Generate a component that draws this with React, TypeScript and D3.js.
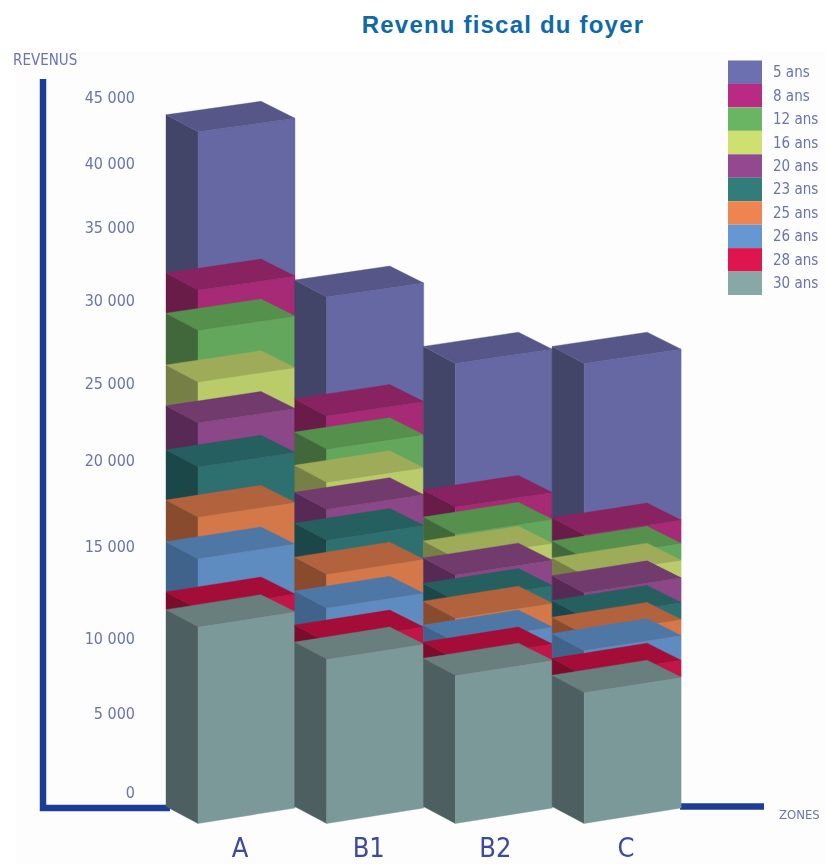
import React from "react";
import * as d3 from "d3";

const zones = ["A", "B1", "B2", "C"];
const ages = ["5 ans", "8 ans", "12 ans", "16 ans", "20 ans", "23 ans", "25 ans", "26 ans", "28 ans", "30 ans"];
const ans5 = [10250, 7700, 9300, 11100];
const ans8 = [2600, 2150, 1750, 1500];
const ans12 = [3350, 2150, 1550, 1100];
const ans16 = [2650, 1750, 1100, 1150];
const ans20 = [2850, 2000, 1650, 1600];
const ans23 = [3250, 2200, 1150, 1100];
const ans25 = [2700, 2200, 1550, 1050];
const ans26 = [3250, 2200, 1100, 1600];
const ans28 = [1150, 1100, 1050, 1100];
const ans30 = [12750, 10650, 9600, 8500];
const seriesValues = [ans5, ans8, ans12, ans16, ans20, ans23, ans25, ans26, ans28, ans30];
const frontColors = ["#6568a3", "#a62a75", "#62a75c", "#b9cc69", "#8b4688", "#2f7070", "#d4784a", "#5f8cc0", "#c21548", "#7b9999"];
const topColors = ["#565789", "#882460", "#54904e", "#9eac5a", "#713a6d", "#285e5f", "#b2643e", "#5077a6", "#a40f38", "#677f7e"];
const sideColors = ["#434567", "#6a1a49", "#40683b", "#767f45", "#562c54", "#1e4648", "#884c2f", "#40648c", "#7c0a2a", "#4d5f60"];
const legendColors = ["#6d6fb0", "#b92a82", "#6ab563", "#cde06f", "#924a90", "#337c7a", "#ee8551", "#6598d2", "#dd1850", "#88a8a8"];
const tickValues = [0, 5000, 10000, 15000, 20000, 25000, 30000, 35000, 40000, 45000];
const tickLabelRange = [792, 713, 638, 546, 460, 383, 300, 227, 163, 97];

const LABEL = "#6a72b0";
const AXIS = "#1f3c96";
const NARROW = "'Liberation Sans Narrow', 'DejaVu Sans Condensed', sans-serif";

const depthX = 32;
const depthY = 17;
const faceW = 97;
const apexW = 95;

const xBand = d3.scaleBand<string>().domain(zones).range([166, 166 + 4 * 128.7]).paddingInner(0).paddingOuter(0);
const yBar = d3.scaleLinear().domain([0, 45000]).range([823.5, 128.7]);
const rise = d3.scaleLinear().domain([0, 45000]).range([15.5, 13.5]);
const yTick = d3.scaleLinear().domain(tickValues).range(tickLabelRange);
const yLegend = d3.scaleBand<string>().domain(ages).range([60.5, 295]);

const pts = (a: number[][]) => a.map((p) => p.join(",")).join(" ");

function Bars() {
  const marks: React.ReactNode[] = [];
  zones.forEach((z, zi) => {
    const tops: number[] = new Array(ages.length);
    const bases: number[] = new Array(ages.length);
    let acc = 0;
    for (let s = ages.length - 1; s >= 0; s--) {
      bases[s] = acc;
      acc += seriesValues[s][zi];
      tops[s] = acc;
    }
    const xl = xBand(z)!;
    const xf = xl + depthX;
    const xr = xf + faceW;
    // lower segments are painted over the upper ones
    ages.forEach((_, s) => {
      const t = tops[s];
      const b = bases[s];
      const ft = yBar(t);
      const fb = yBar(b);
      const rt = ft - rise(t);
      const rb = fb - rise(b);
      const lt = ft - depthY;
      const lb = fb - depthY;
      marks.push(
        <g key={z + s}>
          <polygon points={pts([[xl, lt], [xf, ft], [xf, fb], [xl, lb]])} fill={sideColors[s]} stroke={sideColors[s]} strokeWidth={0.4} />
          <polygon points={pts([[xf, ft], [xr, rt], [xr, rb], [xf, fb]])} fill={frontColors[s]} stroke={frontColors[s]} strokeWidth={0.4} />
          <polygon points={pts([[xl, lt], [xl + apexW, lt - rise(t)], [xr, rt], [xf, ft]])} fill={topColors[s]} stroke={topColors[s]} strokeWidth={0.4} />
        </g>
      );
    });
  });
  return <g>{marks}</g>;
}

export default function App() {
  return (
    <svg width={825} height={864} style={{ position: "absolute", left: 0, top: 0 }}>
      <defs>
        <filter id="soft" x="-5%" y="-5%" width="110%" height="110%">
          <feGaussianBlur stdDeviation="0.45" />
        </filter>
      </defs>
      <rect width={825} height={864} fill="#ffffff" />
      <rect x={14} y={52} width={811} height={812} fill="#fdfdfd" />
      <text x={503} y={33} textAnchor="middle" fontFamily="'Liberation Sans', Arial, sans-serif" fontWeight={700} fontSize={24} letterSpacing={1.2} fill="#0f69a8">
        Revenu fiscal du foyer
      </text>
      <g filter="url(#soft)">
        <path d={`M43 79 V808 H170`} fill="none" stroke={AXIS} strokeWidth={6.5} />
        <line x1={680} x2={764} y1={806.5} y2={806.5} stroke={AXIS} strokeWidth={6.5} />
      </g>
      <g filter="url(#soft)">
        <Bars />
      </g>
      <g filter="url(#soft)" fontFamily={NARROW}>
        <text x={13} y={65} fontSize={15} fill={LABEL}>REVENUS</text>
        <text x={779} y={819} fontSize={13} fill={LABEL}>ZONES</text>
        {tickValues.map((v) => (
          <text key={v} x={135} y={yTick(v) + 6} textAnchor="end" fontSize={16} fill={LABEL}>
            {d3.format(",")(v).replace(",", " ")}
          </text>
        ))}
        {ages.map((a, i) => (
          <g key={a}>
            <rect x={728} y={yLegend(a)!} width={34} height={yLegend.bandwidth()} fill={legendColors[i]} />
            <text x={773} y={yLegend(a)! + yLegend.bandwidth() / 2 + 5} fontSize={15} fill={LABEL}>{a}</text>
          </g>
        ))}
        {zones.map((z, i) => (
          <text key={z} x={xBand(z)! + 74 + (i === 2 ? -2 : 0)} y={857} textAnchor="middle" fontSize={27} fill="#3a4a9e">{z}</text>
        ))}
      </g>
    </svg>
  );
}
